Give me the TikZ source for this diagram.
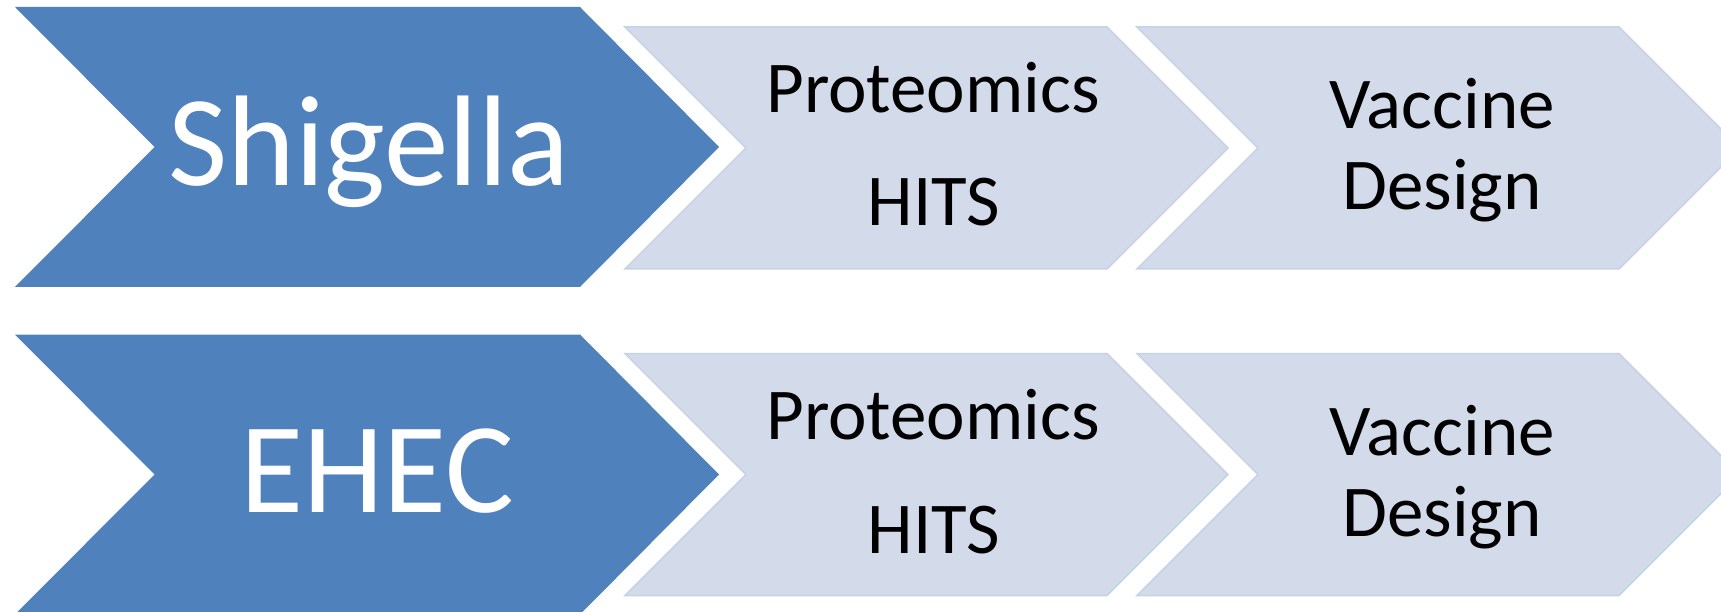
\documentclass[tikz,border=0pt]{standalone}
\usepackage{fontspec}
\setmainfont{Carlito}
\definecolor{darkchev}{HTML}{4F81BD}
\definecolor{lightchev}{HTML}{D3DBEA}
\definecolor{lightedge}{HTML}{C8D2E5}
\tikzset{
  bigchev/.style={fill=darkchev, draw=none},
  smallchev/.style={fill=lightchev, draw=lightedge, line width=1.5pt, line join=miter},
  bigtext/.style={text=white, font=\fontsize{129}{129}\selectfont, anchor=base, inner sep=0pt},
  smalltext/.style={text=black, font=\fontsize{73}{73}\selectfont, anchor=base, inner sep=0pt}
}
\begin{document}
\begin{tikzpicture}[x=1pt,y=-1pt]
\useasboundingbox (0,0) rectangle (1721,612);
\clip (0,0) rectangle (1721,612);
% row 1
\path[bigchev] (15,7) -- (580,7) -- (719,147) -- (580,287) -- (15,287) -- (154.5,147) -- cycle;
\path[smallchev] (625,27) -- (1107,27) -- (1228,148) -- (1107,269) -- (625,269) -- (746,148) -- cycle;
\path[smallchev] (1137,27) -- (1619,27) -- (1740,148) -- (1619,269) -- (1137,269) -- (1258,148) -- cycle;
\node[bigtext] (shig) at (369,186) {Shigella};
\node[smalltext] (prot1) at (933,112.7) {Proteomics};
\node[smalltext] (hits1) at (934,226) {HITS};
\node[smalltext] (vacc1) at (1442,128.3) {Vaccine};
\node[smalltext] (des1) at (1442,210) {Design};
% row 2
\path[bigchev] (15,334.5) -- (580,334.5) -- (719,474.5) -- (580,614.5) -- (15,614.5) -- (154.5,474.5) -- cycle;
\path[smallchev] (625,353.5) -- (1107,353.5) -- (1228,474.5) -- (1107,595.5) -- (625,595.5) -- (746,474.5) -- cycle;
\path[smallchev] (1137,353.5) -- (1619,353.5) -- (1740,474.5) -- (1619,595.5) -- (1137,595.5) -- (1258,474.5) -- cycle;
\node[bigtext] (ehec) at (377,512) {EHEC};
\node[smalltext] (prot2) at (933,439.5) {Proteomics};
\node[smalltext] (hits2) at (934,553) {HITS};
\node[smalltext] (vacc2) at (1442,455) {Vaccine};
\node[smalltext] (des2) at (1442,536.5) {Design};
\end{tikzpicture}
\end{document}
